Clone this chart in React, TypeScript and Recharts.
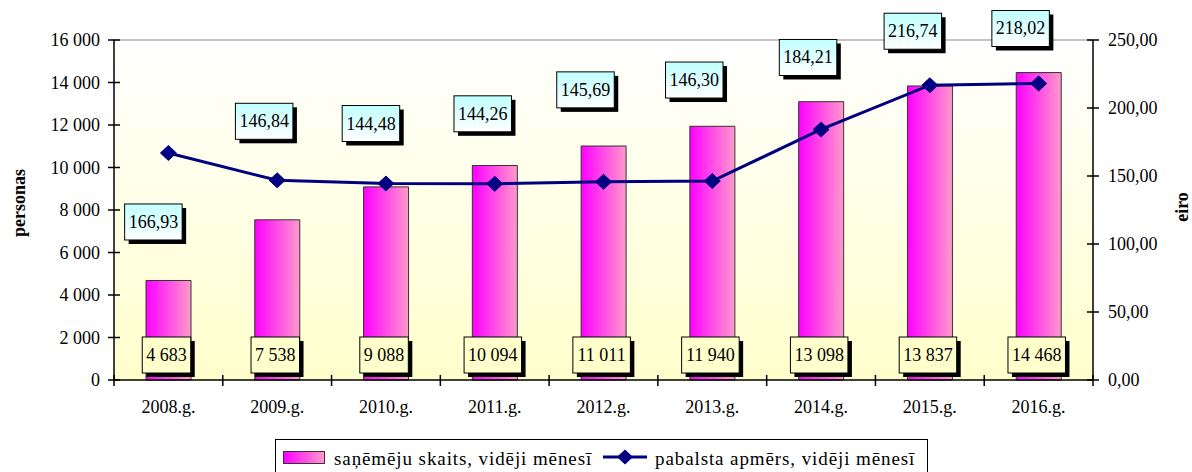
import React from 'react';
import { ComposedChart, Bar, Line, XAxis, YAxis, CartesianGrid, LabelList, ReferenceLine } from 'recharts';

// ---- data ----
const years = ['2008.g.', '2009.g.', '2010.g.', '2011.g.', '2012.g.', '2013.g.', '2014.g.', '2015.g.', '2016.g.'];
const recipients = [4683, 7538, 9088, 10094, 11011, 11940, 13098, 13837, 14468];
const benefit = [166.93, 146.84, 144.48, 144.26, 145.69, 146.3, 184.21, 216.74, 218.02];
const leftTicks = [0, 2000, 4000, 6000, 8000, 10000, 12000, 14000, 16000];
const rightTicks = [0, 50, 100, 150, 200, 250];
const seriesNames = ['saņēmēju skaits, vidēji mēnesī', 'pabalsta apmērs, vidēji mēnesī'];
const axisTitles = ['personas', 'eiro'];

// label placement (style), offset of box centre from the point [dx, dy]
const benefitLabelOffsets = [
  [-15, 69], [-13, -59], [-15, -60], [-12, -70], [-18, -92], [-18, -101], [-13, -72], [-17, -54], [-18, -55],
];

const data = years.map((y, i) => ({ year: y, recipients: recipients[i], benefit: benefit[i] }));

const FONT = 'Liberation Serif, Times New Roman, Times, serif';
const FS = 18;
const TS: React.CSSProperties = { fontFamily: FONT, fontSize: FS };
const fmtInt = (v: number) => String(Math.round(v)).replace(/\B(?=(\d{3})+(?!\d))/g, ' ');
const fmtDec = (v: number) => v.toFixed(2).replace('.', ',');
const textW = (s: string) => {
  let w = 0;
  for (const c of s) w += /[0-9]/.test(c) ? 0.5 : 0.25;
  return w * FS;
};

const BarValueLabel = (props: any) => {
  const vb = props.viewBox || {};
  const x = Number(props.x ?? vb.x);
  const y = Number(props.y ?? vb.y);
  const w = Number(props.width ?? vb.width);
  const h = Number(props.height ?? vb.height);
  const label = fmtInt(Number(props.value));
  const bw = textW(label) + 8;
  const bh = 36;
  const cx = x + w / 2 - 2;
  const bottom = y + h - 7;
  return (
    <g>
      <rect x={cx - bw / 2 + 4} y={bottom - bh + 4} width={bw} height={bh} fill="#000" />
      <rect x={cx - bw / 2} y={bottom - bh} width={bw} height={bh} fill="#FFFFCC" stroke="#000" strokeWidth={1} />
      <text x={cx} y={bottom - bh / 2 + 6} textAnchor="middle" style={TS} fill="#000">
        {label}
      </text>
    </g>
  );
};

const LineValueLabel = (props: any) => {
  const idx = Number(props.index);
  const x = Number(props.x);
  const y = Number(props.y);
  const off = benefitLabelOffsets[idx] || [0, -50];
  const label = fmtDec(Number(props.value));
  const bw = textW(label) + 8;
  const bh = 36;
  const cx = x + off[0];
  const cy = y + off[1];
  return (
    <g>
      <rect x={cx - bw / 2 + 4} y={cy - bh / 2 + 4} width={bw} height={bh} fill="#000" />
      <rect x={cx - bw / 2} y={cy - bh / 2} width={bw} height={bh} fill="url(#cyanGrad)" stroke="#000" strokeWidth={1} />
      <text x={cx} y={cy + 6} textAnchor="middle" style={TS} fill="#000">
        {label}
      </text>
    </g>
  );
};

const Diamond = (props: any) => {
  const { cx, cy } = props;
  if (cx == null || cy == null) return null;
  return (
    <polygon
      key={`d-${props.index}`}
      points={`${cx},${cy - 7.5} ${cx + 8},${cy} ${cx},${cy + 7.5} ${cx - 8},${cy}`}
      fill="#000080"
      stroke="#000080"
    />
  );
};

const LeftTick = (props: any) => {
  const { x, y, payload } = props;
  return (
    <g>
      <line x1={x - 6} x2={x + 6} y1={y} y2={y} stroke="#000" strokeWidth={1.5} />
      <text x={x - 14} y={y + 6} textAnchor="end" style={TS} fill="#000">
        {fmtInt(payload.value)}
      </text>
    </g>
  );
};

const RightTick = (props: any) => {
  const { x, y, payload } = props;
  return (
    <g>
      <line x1={x - 6} x2={x + 6} y1={y} y2={y} stroke="#000" strokeWidth={1.5} />
      <text x={x + 15} y={y + 6} textAnchor="start" style={TS} fill="#000">
        {fmtDec(payload.value)}
      </text>
    </g>
  );
};

const BottomTick = (props: any) => {
  const { x, y, payload, index, visibleTicksCount } = props;
  const half = Number(payload.offset) || 54.4;
  const isLast = index === (visibleTicksCount ?? years.length) - 1;
  return (
    <g>
      <line x1={x - half} x2={x - half} y1={y - 5} y2={y + 6} stroke="#000" strokeWidth={1.5} />
      {isLast && <line x1={x + half} x2={x + half} y1={y - 5} y2={y + 6} stroke="#000" strokeWidth={1.5} />}
      <text x={x} y={y + 33} textAnchor="middle" style={TS} fill="#000">
        {payload.value}
      </text>
    </g>
  );
};

const AxisTitle = (dx: number, dy: number, text: string) => (props: any) => {
  const vb = props.viewBox || {};
  const x = Number(vb.x) + dx;
  const y = Number(vb.y) + Number(vb.height) / 2 + dy;
  return (
    <text
      x={x}
      y={y}
      transform={`rotate(-90 ${x} ${y})`}
      textAnchor="middle"
      dominantBaseline="central"
      style={{ ...TS, fontWeight: 'bold' }}
      fill="#000"
    >
      {text}
    </text>
  );
};

const LegendBox = () => (
  <svg width={653} height={40} style={{ position: 'absolute', left: 275, top: 439 }}>
    <defs>
      <linearGradient id="legBarGrad" x1="0" y1="0" x2="1" y2="0">
        <stop offset="0" stopColor="#FF00FF" />
        <stop offset="1" stopColor="#FF99CC" />
      </linearGradient>
    </defs>
    <rect x={0.5} y={0.5} width={652} height={45} fill="#fff" stroke="#000" strokeWidth={1} />
    <rect x={8.5} y={12.5} width={41} height={12} fill="url(#legBarGrad)" stroke="#333" strokeWidth={1} />
    <text x={59} y={26} style={{ fontFamily: FONT, fontSize: 19, letterSpacing: 0.9 }} fill="#000">
      {seriesNames[0]}
    </text>
    <line x1={328} x2={372} y1={18} y2={18} stroke="#000080" strokeWidth={3} />
    <polygon points="350,10.5 358,18 350,25.5 342,18" fill="#000080" />
    <text x={380} y={26} style={{ fontFamily: FONT, fontSize: 19, letterSpacing: 0.9 }} fill="#000">
      {seriesNames[1]}
    </text>
  </svg>
);

export default function App() {
  return (
    <div style={{ position: 'absolute', left: 0, top: 0, width: 1192, height: 472, overflow: 'hidden', background: '#fff' }}>
      <ComposedChart width={1192} height={472} data={data} margin={{ top: 40, right: 0, bottom: 0, left: 0 }}>
        <defs>
          <linearGradient id="barGrad" x1="0" y1="0" x2="1" y2="0">
            <stop offset="0" stopColor="#FF00FF" />
            <stop offset="1" stopColor="#FF99CC" />
          </linearGradient>
          <linearGradient id="cyanGrad" x1="0" y1="0" x2="0" y2="1">
            <stop offset="0" stopColor="#BFFFFF" />
            <stop offset="1" stopColor="#FFFFFF" />
          </linearGradient>
          <linearGradient id="bgGrad" x1="0" y1="0" x2="0" y2="1">
            <stop offset="0" stopColor="#FFFFFF" />
            <stop offset="1" stopColor="#FFFFCC" />
          </linearGradient>
        </defs>
        <CartesianGrid yAxisId="left" horizontal={false} vertical={false} fill="url(#bgGrad)" fillOpacity={1} />
        <XAxis
          dataKey="year"
          height={92}
          tickLine={false}
          tickSize={0}
          tickMargin={0}
          axisLine={{ stroke: '#000', strokeWidth: 1.5 }}
          tick={<BottomTick />}
          interval={0}
        />
        <YAxis
          yAxisId="left"
          orientation="left"
          width={114}
          domain={[0, 16000]}
          ticks={leftTicks}
          interval={0}
          tickLine={false}
          tickSize={0}
          tickMargin={0}
          axisLine={{ stroke: '#000', strokeWidth: 1.5 }}
          tick={<LeftTick />}
          label={AxisTitle(19, -7, axisTitles[0])}
        />
        <YAxis
          yAxisId="right"
          orientation="right"
          width={99}
          domain={[0, 250]}
          ticks={rightTicks}
          interval={0}
          tickLine={false}
          tickSize={0}
          tickMargin={0}
          axisLine={{ stroke: '#000', strokeWidth: 1.5 }}
          tick={<RightTick />}
          label={AxisTitle(89, -3, axisTitles[1])}
        />
        <ReferenceLine yAxisId="left" y={16000} stroke="#888" strokeWidth={1} />
        <Bar
          yAxisId="left"
          dataKey="recipients"
          name={seriesNames[0]}
          barSize={45}
          fill="url(#barGrad)"
          stroke="#333"
          strokeWidth={1}
          isAnimationActive={false}
        >
          <LabelList dataKey="recipients" content={<BarValueLabel />} />
        </Bar>
        <Line
          yAxisId="right"
          dataKey="benefit"
          name={seriesNames[1]}
          type="linear"
          stroke="#000080"
          strokeWidth={3}
          dot={<Diamond />}
          activeDot={false}
          isAnimationActive={false}
        >
          <LabelList dataKey="benefit" content={<LineValueLabel />} />
        </Line>
      </ComposedChart>
      <LegendBox />
    </div>
  );
}
